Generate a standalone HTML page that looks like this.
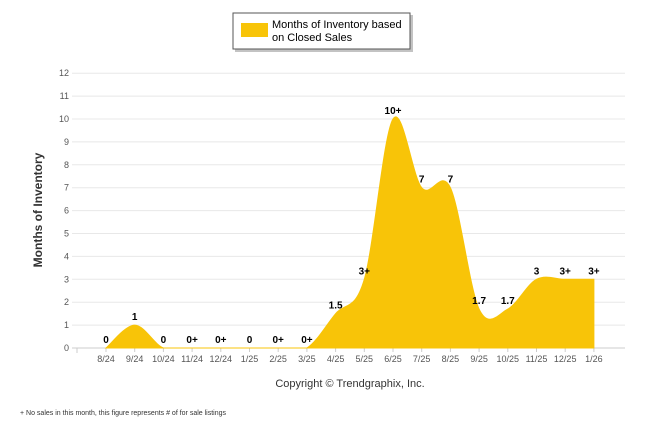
<!DOCTYPE html>
<html><head><meta charset="utf-8"><style>
body{margin:0;background:#fff;width:646px;height:434px;overflow:hidden;font-family:"Liberation Sans",sans-serif}
svg{display:block}
</style></head><body>
<svg width="646" height="434">
<g>
<rect x="235" y="15" width="178" height="37" fill="#888" opacity="0.5"/>
<rect x="233" y="13" width="177" height="36" fill="#fff" stroke="#555" stroke-width="1"/>
<rect x="241" y="23" width="27" height="14" fill="#f8c408"/>
<text x="272" y="28" font-size="11" fill="#000">Months of Inventory based</text>
<text x="272" y="41" font-size="11" fill="#000">on Closed Sales</text>
</g>
<g id="grid"></g>
<g id="area"></g>
<g id="labels"></g>
<text transform="translate(42,210) rotate(-90)" text-anchor="middle" font-size="12" font-weight="bold" fill="#333">Months of Inventory</text>
<text x="350" y="387" text-anchor="middle" font-size="11" fill="#333">Copyright © Trendgraphix, Inc.</text>
<text x="20" y="415" font-size="7" fill="#333">+  No sales in this month, this figure represents # of for sale listings</text>
</svg>
<script>
const categories=["8/24","9/24","10/24","11/24","12/24","1/25","2/25","3/25","4/25","5/25","6/25","7/25","8/25","9/25","10/25","11/25","12/25","1/26"];
const values=[0,1,0,0,0,0,0,0,1.5,3,10,7,7,1.7,1.7,3,3,3];
const pointLabels=["0","1","0","0+","0+","0","0+","0+","1.5","3+","10+","7","7","1.7","1.7","3","3+","3+"];
const yTicks=[0,1,2,3,4,5,6,7,8,9,10,11,12];
const NS="http://www.w3.org/2000/svg";
const X0=106,DX=28.7,Y0=348,YU=22.9;
const xs=i=>X0+i*DX, ys=v=>Y0-v*YU;
function mk(t,a,p){const e=document.createElementNS(NS,t);for(const k in a)e.setAttribute(k,a[k]);p.appendChild(e);return e;}
const grid=document.getElementById('grid');
yTicks.forEach(t=>{
 const l=mk('line',{x1:72,x2:625,y1:ys(t),y2:ys(t),stroke:t===0?'#ccc':'#e8e8e8','stroke-width':1},grid);
 
 
 const tx=mk('text',{x:69,y:ys(t)+3,'text-anchor':'end','font-size':9,fill:'#555'},grid);tx.textContent=t;
 
 
});
mk('line',{x1:77,x2:77,y1:348,y2:353,stroke:'#ccc'},grid);
categories.forEach((c,i)=>{
 mk('line',{x1:xs(i),x2:xs(i),y1:348,y2:352,stroke:'#ccc'},grid);
 const tx=mk('text',{x:xs(i),y:362,'text-anchor':'middle','font-size':9,fill:'#555'},grid);tx.textContent=c;
 
 
});
// catmull-rom area
const pts=values.map((v,i)=>[xs(i),ys(v)]);
let d=`M${pts[0][0]},${Y0} L${pts[0][0]},${pts[0][1]}`;
for(let i=0;i<pts.length-1;i++){
 const p0=pts[Math.max(i-1,0)],p1=pts[i],p2=pts[i+1],p3=pts[Math.min(i+2,pts.length-1)];
 let c1y=p1[1]+(p2[1]-p0[1])/6,c2y=p2[1]-(p3[1]-p1[1])/6;
 c1y=Math.min(c1y,Y0);c2y=Math.min(c2y,Y0);
 d+=` C${p1[0]+(p2[0]-p0[0])/6},${c1y} ${p2[0]-(p3[0]-p1[0])/6},${c2y} ${p2[0]},${p2[1]}`;
}
d+=` L${pts[pts.length-1][0]},${Y0} Z`;
const area=mk('path',{d:d,fill:'#f8c408',stroke:'#f8c408','stroke-width':1},document.getElementById('area'));


const lab=document.getElementById('labels');
values.forEach((v,i)=>{
 const t=mk('text',{x:xs(i),y:ys(v)-5,'text-anchor':'middle','font-size':10,'font-weight':'bold',fill:'#000'},lab);
 t.textContent=pointLabels[i];
 
 
});
</script>
</body></html>
